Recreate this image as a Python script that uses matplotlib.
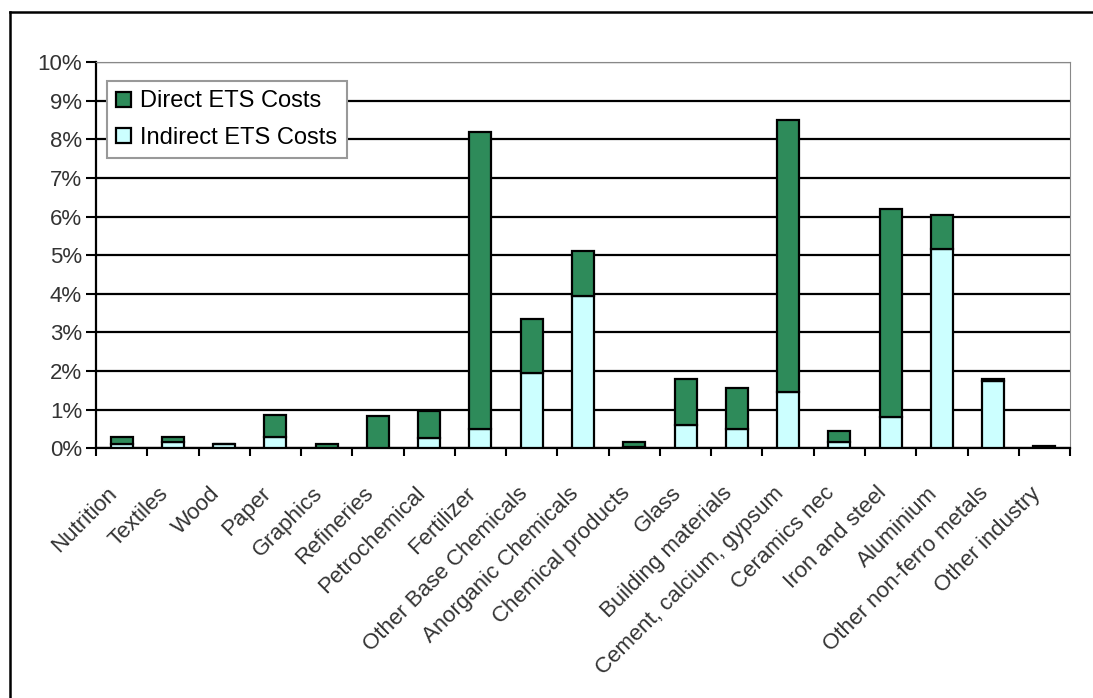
import matplotlib.pyplot as plt
import numpy as np
from matplotlib.lines import Line2D
from matplotlib.ticker import FixedLocator, PercentFormatter

plt.rcParams['font.family'] = ['Liberation Sans', 'DejaVu Sans']

# sectors and cost shares (% of gross value added)
sectors = ["Nutrition", "Textiles", "Wood", "Paper", "Graphics", "Refineries",
           "Petrochemical", "Fertilizer", "Other Base Chemicals",
           "Anorganic Chemicals", "Chemical products", "Glass",
           "Building materials", "Cement, calcium, gypsum", "Ceramics nec",
           "Iron and steel", "Aluminium", "Other non-ferro metals",
           "Other industry"]
indirect = [0.10, 0.15, 0.10, 0.30, 0.00, 0.00, 0.25, 0.50, 1.95, 3.95,
            0.02, 0.60, 0.50, 1.45, 0.15, 0.80, 5.15, 1.75, 0.00]
direct = [0.20, 0.15, 0.00, 0.55, 0.10, 0.82, 0.72, 7.70, 1.40, 1.15,
          0.13, 1.20, 1.05, 7.05, 0.30, 5.40, 0.90, 0.05, 0.05]

green = "#2e8b5a"
cyan = "#ccffff"

fig = plt.figure(figsize=(10.93, 6.98), dpi=100)
ax = fig.add_axes([0.0878, 0.358, 0.8912, 0.553])

x = np.arange(len(sectors))
ax.bar(x, indirect, width=0.43, color=cyan, edgecolor="black", linewidth=1.6,
       label="Indirect ETS Costs", zorder=3)
ax.bar(x, direct, width=0.43, bottom=indirect, color=green, edgecolor="black",
       linewidth=1.6, label="Direct ETS Costs", zorder=3)

ax.set_xlim(-0.5, len(sectors) - 0.5)
ax.set_ylim(0, 10)
ax.set_yticks(np.arange(0, 11, 1))
ax.yaxis.set_major_formatter(PercentFormatter(decimals=0))
ax.yaxis.grid(True, color="black", linewidth=1.6, zorder=0)
ax.set_axisbelow(True)

# ticks between categories, labels centred under bars
ax.xaxis.set_major_locator(FixedLocator(np.arange(-0.5, len(sectors), 1)))
ax.xaxis.set_major_formatter(plt.NullFormatter())
ax.xaxis.set_minor_locator(FixedLocator(x))
ax.set_xticklabels(sectors, minor=True, rotation=45, ha="right",
                   fontsize=16, color="#333333")
ax.tick_params(axis="x", which="minor", length=0, pad=25)
ax.tick_params(axis="x", which="major", direction="out", length=6, width=1.5)
ax.tick_params(axis="y", direction="out", length=7, width=1.5,
               labelsize=16, colors="black", labelcolor="#333333", pad=3)

for side in ["left", "bottom"]:
    ax.spines[side].set_linewidth(1.6)
ax.spines["top"].set_color("#888888")
ax.spines["right"].set_color("#888888")

handles, labels = ax.get_legend_handles_labels()
leg = ax.legend(handles[::-1], labels[::-1], loc="upper left",
                bbox_to_anchor=(0.011, 0.951), borderaxespad=0, fontsize=17,
                fancybox=False, framealpha=1, edgecolor="#999999",
                handlelength=0.62, handleheight=0.62, handletextpad=0.4,
                borderpad=0.4, labelspacing=0.6)
leg.get_frame().set_linewidth(1.5)

# outer frame (left and top edges visible)
fig.add_artist(Line2D([0.0092, 0.0092], [0.0, 0.983], color="black", lw=1.8,
                      transform=fig.transFigure))
fig.add_artist(Line2D([0.0092, 1.0], [0.983, 0.983], color="black", lw=1.8,
                      transform=fig.transFigure))

fig.savefig("out.png", dpi=100)
